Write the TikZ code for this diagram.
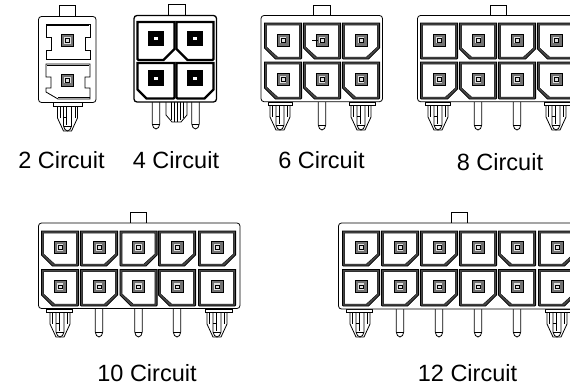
\documentclass[tikz,border=0pt]{standalone}
\usepackage{fontspec}
\setmainfont{Liberation Sans}
\tikzset{
  housing/.style={draw=black,line width=.8pt,rounded corners=3pt,fill=white},
  tabbox/.style={draw=black,line width=.8pt,fill=white},
  lbl/.style={font=\fontsize{23.5}{26}\selectfont,inner sep=0pt,text=black}
}
% cell: cx, top, bottom, left chamfer, right chamfer
\newcommand{\cellbox}[5]{%
  \begin{scope}[shift={(#1,0)}]
  \pgfmathsetmacro{\lc}{#4}\pgfmathsetmacro{\rc}{#5}
  \fill[gray!55!black] (-18.6,#2) -- (18.6,#2) -- (18.6,#3-\rc) -- (18.6-\rc,#3) -- (-18.6+\lc,#3) -- (-18.6,#3-\lc) -- cycle;
  \draw[line width=.8pt] (-18.6,#2) -- (18.6,#2) -- (18.6,#3-\rc) -- (18.6-\rc,#3) -- (-18.6+\lc,#3) -- (-18.6,#3-\lc) -- cycle;
  \draw[fill=white,line width=.5pt] (-16.4,#2+2.2) -- (16.4,#2+2.2) -- (16.4,#3-\rc-1) -- (16.4-\rc,#3-2) -- (-16.4+\lc,#3-2) -- (-16.4,#3-\lc-1) -- cycle;
  \pgfmathsetmacro{\my}{(#2+#3)/2-1}
  \fill[black!55] (-6,\my-6) rectangle (6,\my+6);
  \fill[gray!25] (-3.4,\my-3.4) rectangle (3.4,\my+3.4);
  \draw[line width=.5pt] (-1.8,\my-1.8) rectangle (1.8,\my+1.8);
  \draw[line width=.8pt] (-6,\my-6) rectangle (6,\my+6);
  \end{scope}}
\newcommand{\thinpin}[2]{%
  \draw[line width=.8pt,fill=white] (#1-3.7,#2) -- (#1-3.7,#2+23) -- (#1-2.5,#2+26.5) -- (#1,#2+28) -- (#1+2.5,#2+26.5) -- (#1+3.7,#2+23) -- (#1+3.7,#2);
  \draw[line width=.5pt] (#1-3.7,#2+23) -- (#1+3.7,#2+23);}
\newcommand{\bigpin}[2]{%
  \draw[line width=.8pt,fill=white] (#1-10,#2) -- (#1-10,#2+15) -- (#1-4,#2+28) -- (#1+4,#2+28) -- (#1+10,#2+15) -- (#1+10,#2);
  \draw[line width=.8pt,fill=white] (#1-4,#2) -- (#1-4,#2+23) -- (#1-2.5,#2+26.5) -- (#1,#2+28) -- (#1+2.5,#2+26.5) -- (#1+4,#2+23) -- (#1+4,#2);
  \draw[line width=.5pt] (#1-1,#2) -- (#1-1,#2+22) (#1-4,#2+14) -- (#1-1,#2+14) (#1-4,#2+23) -- (#1+4,#2+23);
  \draw[line width=.5pt] (#1-7.5,#2+1) -- (#1-7.5,#2+15) (#1+7.5,#2+1) -- (#1+7.5,#2+15);
  }
\newcommand{\collar}[3]{\draw[line width=.7pt,fill=white] (#1,#3) rectangle (#2,#3+3.5);}
\begin{document}
\begin{tikzpicture}[x=1pt,y=-1pt]
\useasboundingbox (0,0) rectangle (570,388);
\fill[white] (0,0) rectangle (570,388);

% ---- 2 circuit
\draw[tabbox] (59.5,16.5) -- (59.5,5) -- (75,5) -- (75,16.5);
\bigpin{67.5}{103}
\collar{53}{82}{102.5}
\draw[housing] (38.5,16.5) rectangle (96,102.5);
\draw[line width=.8pt,fill=white] (46,24) -- (90,24) -- (90,37) -- (85,37) -- (85,50) -- (90,50) -- (90,59) -- (46,59) -- (46,50) -- (51,50) -- (51,37) -- (46,37) -- cycle;
\draw[line width=1.3pt] (47,25.5) -- (89,25.5);
\draw[line width=.8pt,fill=white] (46,64) -- (90,64) -- (90,77) -- (85,77) -- (85,88) -- (90,88) -- (90,99) -- (58,99) -- (46,92) -- (46,88) -- (51,88) -- (51,77) -- (46,77) -- cycle;
\draw[line width=1.3pt] (47,65.5) -- (89,65.5) (90,97.5) -- (58,97.5);
\foreach \yy in {40.5,80}{
 \fill[black!55] (61.2,\yy-6) rectangle (73.2,\yy+6);
 \fill[gray!25] (63.8,\yy-3.4) rectangle (70.6,\yy+3.4);
 \draw[line width=.5pt] (65.4,\yy-1.8) rectangle (69,\yy+1.8);
 \draw[line width=.8pt] (61.2,\yy-6) rectangle (73.2,\yy+6);
}

% ---- 4 circuit
\draw[tabbox,line width=1pt] (168.5,15.5) -- (168.5,4.5) -- (185,4.5) -- (185,15.5);
\thinpin{156}{101}
\thinpin{195.5}{101}
\draw[line width=.8pt,fill=white] (166,102) -- (166,115) -- (172,122) -- (181,122) -- (187,115) -- (187,102);
\draw[line width=.6pt] (171,102) -- (171,120) (174,102) -- (174,122) (177,102) -- (177,122) (180,102) -- (180,120) (183,102) -- (183,118);
\draw[housing,line width=1.3pt] (134,15.5) rectangle (216.5,102);
\foreach \cx/\t/\b/\l/\r in {156/21/60/1/11,195/21/60/11/1,156/62/98.5/9/1,195/62/98.5/1/9}{
 \begin{scope}[shift={(\cx,0)}]
 \pgfmathsetmacro{\lc}{\l}\pgfmathsetmacro{\rc}{\r}
 \draw[line width=2.4pt,fill=white] (-18.5,\t+1) -- (18.5,\t+1) -- (18.5,\b-\rc) -- (18.5-\rc,\b) -- (-18.5+\lc,\b) -- (-18.5,\b-\lc) -- cycle;
 \pgfmathsetmacro{\my}{(\t+\b)/2-2}
 \fill[black] (-7.8,\my-7.8) rectangle (7.8,\my+7.8);
 \fill[white] (-1.6,\my-1.6) rectangle (1.6,\my+1.6);
 \end{scope}}

% ---- 6 circuit
\draw[tabbox] (313.5,15.5) -- (313.5,5) -- (330,5) -- (330,15.5);
\bigpin{280}{102}\bigpin{361}{102}\thinpin{322}{102}
\collar{268}{292}{102}\collar{349}{375}{102}
\draw[housing] (261,15.5) rectangle (382.5,101.7);
\foreach \c/\l/\r in {283/11/.8,322/11/.8,361/.8/11}{\cellbox{\c}{23}{59}{\l}{\r}}
\foreach \c/\l/\r in {283/11/.8,322/11/.8,361/11/.8}{\cellbox{\c}{62}{99}{\l}{\r}}
\draw[line width=.7pt] (312,40) -- (318,40);

% ---- 8 circuit
\draw[tabbox] (490,15.5) -- (490,5) -- (506,5) -- (506,15.5);
\bigpin{438}{102}\thinpin{478}{102}\thinpin{517}{102}\bigpin{556}{102}
\collar{425}{450}{102}\collar{544}{575}{102}
\draw[housing] (417.5,15.5) rectangle (590,101.7);
\foreach \c/\l/\r in {439/.8/.8,478/10/.8,517/.8/10,556/10/.8}{\cellbox{\c}{23}{59}{\l}{\r}}
\foreach \c/\l/\r in {439/.8/10,478/10/.8,517/.8/.8,556/10/.8}{\cellbox{\c}{62}{99}{\l}{\r}}

% ---- 10 circuit
\draw[tabbox] (130.5,223) -- (130.5,212.5) -- (146.5,212.5) -- (146.5,223);
\bigpin{60}{309}\thinpin{99}{309}\thinpin{138.5}{309}\thinpin{177}{309}\bigpin{217}{309}
\collar{46}{72}{309}\collar{205}{232}{309}
\draw[housing] (38.5,223) rectangle (240,308.5);
\foreach \c/\l/\r in {60/11/.8,99/.8/11,138.5/.8/11,177/.8/11,217/.8/11}{\cellbox{\c}{231}{266}{\l}{\r}}
\foreach \c/\l/\r in {60/11/.8,99/.8/11,138.5/11/.8,177/11/.8,217/.8/.8}{\cellbox{\c}{269.5}{306}{\l}{\r}}

% ---- 12 circuit
\draw[tabbox] (451,223) -- (451,212.5) -- (467,212.5) -- (467,223);
\bigpin{360}{309}\thinpin{400}{309}\thinpin{439}{309}\thinpin{478}{309}\thinpin{517}{309}\bigpin{557}{309}
\collar{346}{372}{309}\collar{545}{575}{309}
\draw[housing] (338.5,223) rectangle (590,309);
\foreach \c/\l/\r in {361/.8/11,400/.8/11,439/.8/11,478/.8/.8,517/11/.8,557/.8/11}{\cellbox{\c}{231}{266}{\l}{\r}}
\foreach \c/\l/\r in {361/.8/11,400/.8/11,439/.8/11,478/.8/11,517/11/.8,557/.8/11}{\cellbox{\c}{269.5}{306}{\l}{\r}}

% ---- labels
\node[lbl] (l2) at (61.5,160.5) {2 Circuit};
\node[lbl] (l4) at (176,160.5) {4 Circuit};
\node[lbl] (l6) at (321.5,160.5) {6 Circuit};
\node[lbl] (l8) at (500,162) {8 Circuit};
\node[lbl] (l10) at (147,373.5) {10 Circuit};
\node[lbl] (l12) at (467.5,373.5) {12 Circuit};
\end{tikzpicture}
\end{document}
